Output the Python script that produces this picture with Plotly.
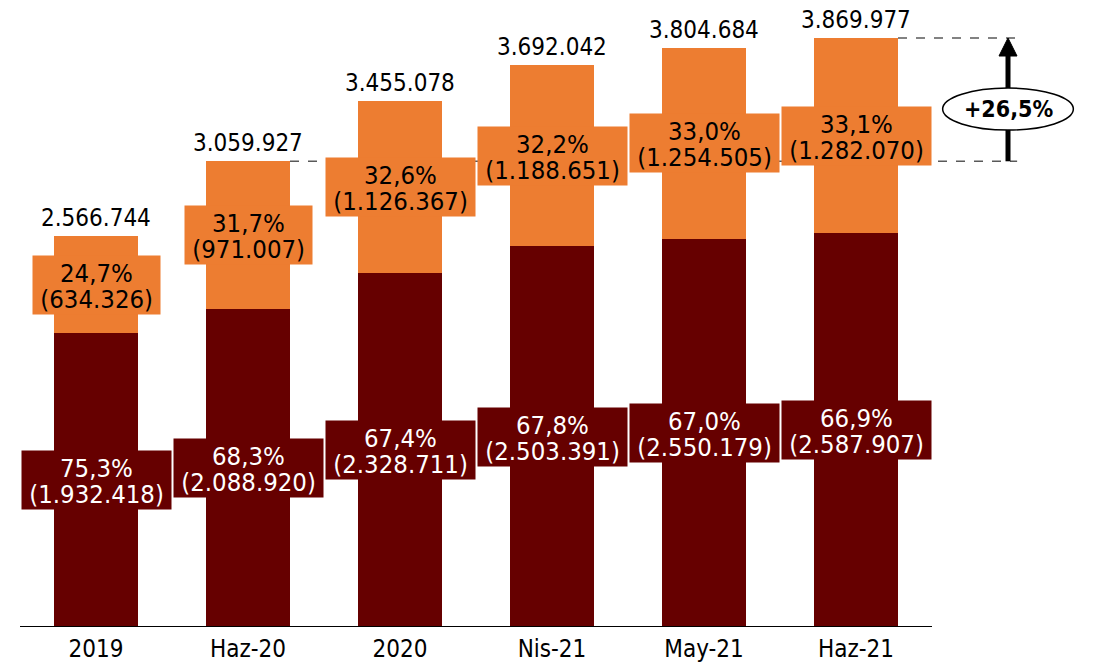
import plotly.graph_objects as go

categories = ["2019", "Haz-20", "2020", "Nis-21", "May-21", "Haz-21"]
bottom_values = [1932418, 2088920, 2328711, 2503391, 2550179, 2587907]
top_values = [634326, 971007, 1126367, 1188651, 1254505, 1282070]
bottom_pct = ["75,3%", "68,3%", "67,4%", "67,8%", "67,0%", "66,9%"]
top_pct = ["24,7%", "31,7%", "32,6%", "32,2%", "33,0%", "33,1%"]
totals = [2566744, 3059927, 3455078, 3692042, 3804684, 3869977]
growth_label = "+26,5%"

DARK = "#660000"
ORANGE = "#ED7D31"
FONT = "DejaVu Sans Condensed, DejaVu Sans"
LS = 25.5  # label font size

def fmt(v):
    return f"{v:,}".replace(",", ".")

xs = list(range(len(categories)))
bar_w = 0.5526

fig = go.Figure()
fig.add_trace(go.Bar(x=xs, y=bottom_values, marker=dict(color=DARK, line=dict(width=0)),
                     width=bar_w, hoverinfo="skip"))
fig.add_trace(go.Bar(x=xs, y=top_values, marker=dict(color=ORANGE, line=dict(width=0)),
                     width=bar_w, hoverinfo="skip"))

annotations = []
NB = "\u00a0"

def seg_label(x, yc, pct, val, bg, fg):
    # box holding the value line at its bottom
    annotations.append(dict(x=x, y=yc, xref="x", yref="y", showarrow=False,
                            text=f"{NB}({fmt(val)}){NB}", yanchor="middle",
                            height=58, valign="bottom", borderpad=0,
                            font=dict(family=FONT, size=LS, color=fg), bgcolor=bg))
    annotations.append(dict(x=x, y=yc, xref="x", yref="y", showarrow=False,
                            text=pct, yanchor="middle", yshift=12,
                            font=dict(family=FONT, size=LS, color=fg)))

for i in xs:
    b, t = bottom_values[i], top_values[i]
    seg_label(i, b / 2, bottom_pct[i], b, DARK, "white")
    seg_label(i, b + t / 2, top_pct[i], t, ORANGE, "black")
    annotations.append(dict(x=i, y=totals[i], xref="x", yref="y", showarrow=False,
                            text=fmt(totals[i]), yanchor="bottom", yshift=2,
                            font=dict(family=FONT, size=24, color="black")))

ax_x = len(categories)  # position of the growth arrow (right of last bar)
v0 = totals[1]
v1 = totals[-1]
annotations.append(dict(x=ax_x, y=3403000, xref="x", yref="y", showarrow=False,
                        text=f"<b>{growth_label}</b>",
                        font=dict(family=FONT, size=23, color="black")))

px_per_val = 152.2 / 1e6
head_h = 18 / px_per_val
head_hw = 9 / 152

shapes = [
    dict(type="line", xref="x", yref="y", x0=-0.5, x1=len(categories) - 0.5, y0=0, y1=0,
         line=dict(color="black", width=2), layer="above"),
    dict(type="line", xref="x", yref="y", x0=1 + bar_w / 2, x1=ax_x + 0.06, y0=v0, y1=v0,
         line=dict(color="#595959", width=1.5, dash="dash"), layer="below"),
    dict(type="line", xref="x", yref="y", x0=5 + bar_w / 2, x1=ax_x + 0.06, y0=v1, y1=v1,
         line=dict(color="#595959", width=1.5, dash="dash"), layer="below"),
    dict(type="line", xref="x", yref="y", x0=ax_x, x1=ax_x, y0=v0, y1=v1 - head_h + 5000,
         line=dict(color="black", width=5), layer="above"),
    dict(type="path", xref="x", yref="y",
         path=f"M {ax_x - head_hw},{v1 - head_h} L {ax_x + head_hw},{v1 - head_h} L {ax_x},{v1} Z",
         fillcolor="black", line=dict(color="black", width=1), layer="above"),
    dict(type="circle", xref="x", yref="y", x0=ax_x - 0.43, x1=ax_x + 0.43,
         y0=3265000, y1=3541000, fillcolor="white", line=dict(color="black", width=1.5),
         layer="above"),
]

fig.update_layout(
    barmode="stack",
    width=1086, height=658,
    margin=dict(l=12, r=10, t=2, b=39),
    plot_bgcolor="white", paper_bgcolor="white",
    showlegend=False,
    bargap=0.447,
    annotations=annotations,
    shapes=shapes,
    xaxis=dict(range=[-0.5, len(categories) + 0.5], tickmode="array", tickvals=xs,
               ticktext=categories, showgrid=False, zeroline=False, showline=False,
               ticks="", ticklabelstandoff=5,
               tickfont=dict(family=FONT, size=24, color="black")),
    yaxis=dict(range=[0, 4054000], visible=False, showgrid=False, zeroline=False),
)

fig.write_html("out.html")
